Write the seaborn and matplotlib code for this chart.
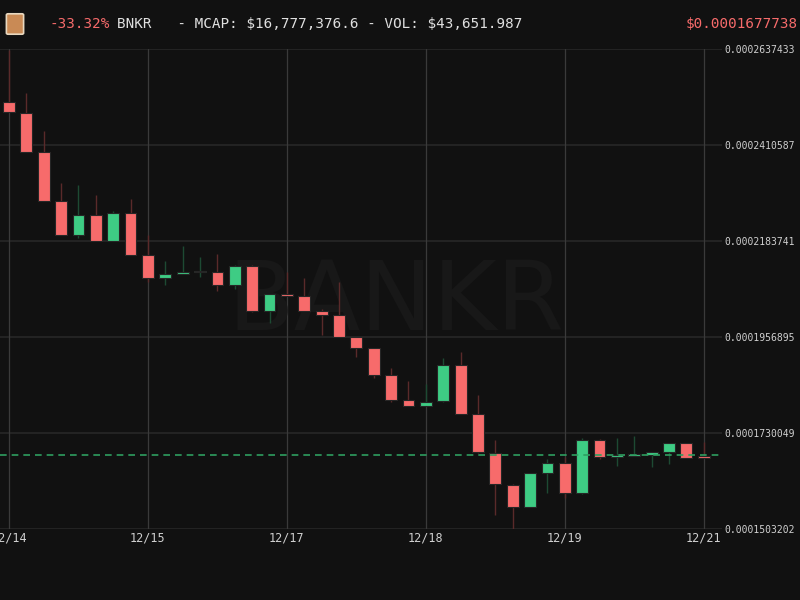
import numpy as np
import pandas as pd
import seaborn as sns
import matplotlib.pyplot as plt
from matplotlib.patches import FancyBboxPatch

# prices in units of 1e-6 USD, one candle per slot
opens = [251.29, 248.69, 239.41, 227.8, 219.79, 224.59, 218.45, 225.06, 215.0, 209.63,
         210.6, 210.98, 211.0, 207.91, 212.54, 201.76, 205.78, 205.45, 201.9, 200.82,
         195.62, 193.02, 186.6, 180.7, 179.46, 180.5, 189.0, 177.5, 168.4, 160.8,
         155.59, 163.48, 165.84, 158.76, 171.28, 167.3, 167.6, 167.88, 168.59, 170.64,
         167.5]
closes = [248.86, 239.48, 227.9, 219.79, 224.59, 218.45, 225.06, 215.07, 209.63, 210.65,
          210.98, 211.05, 207.91, 212.54, 201.76, 205.78, 205.45, 201.9, 200.82, 195.62,
          193.02, 186.64, 180.8, 179.46, 180.4, 189.0, 177.57, 168.44, 160.88, 155.59,
          163.48, 165.84, 158.76, 171.28, 167.4, 167.64, 167.88, 168.59, 170.64, 167.1,
          167.2]
highs = [263.51, 253.35, 244.37, 232.08, 231.61, 229.32, 225.46, 228.3, 219.79, 213.72,
         217.19, 214.59, 215.3, 212.6, 212.6, 205.8, 211.12, 209.63, 202.38, 208.69,
         195.7, 193.1, 188.44, 185.22, 184.51, 190.73, 192.07, 182.06, 171.35, 160.9,
         163.5, 166.79, 167.26, 171.89, 171.7, 171.75, 172.37, 168.6, 170.7, 170.7,
         170.81]
lows = [248.86, 239.48, 227.9, 219.7, 219.08, 218.45, 218.4, 215.0, 208.76, 207.98,
        210.5, 209.87, 206.56, 207.1, 201.7, 199.07, 205.4, 201.8, 196.23, 195.6,
        190.89, 186.0, 180.4, 179.4, 179.4, 180.4, 177.5, 168.4, 153.63, 150.1,
        155.5, 158.9, 157.57, 158.7, 166.86, 165.28, 167.5, 165.04, 165.68, 167.0,
        167.0]
tick_labels = ["12/14", "12/15", "12/17", "12/18", "12/19", "12/21"]
y_ticks = [0.0001503202, 0.0001730049, 0.0001956895, 0.0002183741, 0.0002410587, 0.0002637433]
last_price = 0.0001677738

df = pd.DataFrame({"open": opens, "close": closes, "high": highs, "low": lows}) * 1e-6
df["i"] = np.arange(len(df))
df["up"] = df["close"] >= df["open"]

sns.set_theme(style="dark", rc={"axes.facecolor": "#111111", "figure.facecolor": "#111111"})
plt.rcParams['font.family'] = ['DejaVu Sans Mono', 'DejaVu Sans']

red, green = "#f76b6b", "#3ecc84"
fig = plt.figure(figsize=(8, 6), dpi=100)
ax = fig.add_axes([0, 0.1183, 0.9025, 0.8])

for v in y_ticks:
    ax.axhline(v, color="#232323", lw=1.5, zorder=0)
for k in range(0, 41, 8):
    ax.axvline(k, color="#3a3a3a", lw=0.9, zorder=0)

ax.text(22.3, 0.0002035, "BANKR", fontsize=70, color="#181818", ha="center", va="center",
        family="Liberation Sans Narrow", zorder=0.5)

colors = np.where(df["up"], green, red)
wick_colors = np.where(df["up"], "#1d4a33", "#5a2a2a")
ax.vlines(df["i"], df["low"], df["high"], colors=wick_colors, lw=1, zorder=1)
bottom = df[["open", "close"]].min(axis=1)
height = (df["open"] - df["close"]).abs().clip(lower=4e-7)
ax.bar(df["i"], height, bottom=bottom, width=0.68, color=colors,
       edgecolor="#262626", linewidth=0.8, zorder=2)

ax.axhline(last_price, color="#2e9e60", lw=1.2, ls=(0, (4, 3)), zorder=3)

ax.set_xlim(-0.518, 41.05)
ax.set_ylim(y_ticks[0], y_ticks[-1])
ax.set_xticks(range(0, 41, 8))
ax.set_xticklabels(tick_labels, color="#d0d0d0", fontsize=8.5)
ax.yaxis.tick_right()
ax.set_yticks(y_ticks)
ax.set_yticklabels([f"{v:.10f}" for v in y_ticks], color="#d0d0d0", fontsize=7)
ax.tick_params(axis="both", length=0, pad=2)
for s in ax.spines.values():
    s.set_visible(False)

# header
fig.patches.append(FancyBboxPatch((8 / 800, 1 - 33 / 600), 14 / 800, 18 / 600,
                                  boxstyle="round,pad=0.002", transform=fig.transFigure,
                                  facecolor="#c98a55", edgecolor="#e8d8c0", lw=1.2))
fig.text(50 / 800, 1 - 24 / 600, "-33.32%", color=red, fontsize=10.3, va="center")
fig.text(117 / 800, 1 - 24 / 600, r"BNKR   - MCAP: \$16,777,376.6 - VOL: \$43,651.987",
         color="#e0e0e0", fontsize=10.3, va="center")
fig.text(798 / 800, 1 - 24 / 600, r"\$0.0001677738", color=red, fontsize=10.3,
         va="center", ha="right")

fig.savefig("out.png", dpi=100)
